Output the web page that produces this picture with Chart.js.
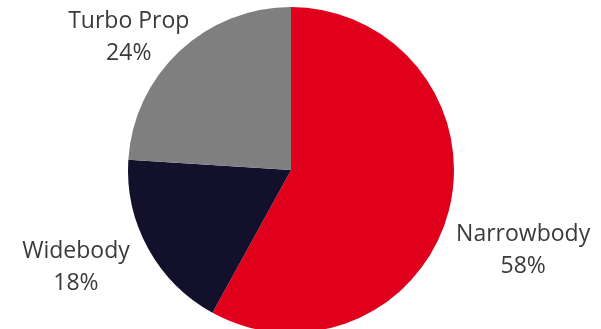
<!DOCTYPE html>
<html>
<head>
<meta charset="utf-8">
<script src="https://cdn.jsdelivr.net/npm/chart.js@4/dist/chart.umd.min.js"></script>
<style>
  html, body { margin: 0; padding: 0; background: #fff; overflow: hidden; }
  #wrap { width: 601px; height: 336px; position: relative; }
</style>
</head>
<body>
<div id="wrap"><canvas id="myChart"></canvas></div>
<script>
const categories = ["Narrowbody", "Widebody", "Turbo Prop"];
const shares = [58, 18, 24];
const sliceColors = ["#e0001b", "#12102a", "#7f7f7f"];

// small nudges so the labels sit where the original put them
const labelNudge = [
  { dx: 21, dy: 17 },
  { dx: -24, dy: -17 },
  { dx: -13, dy: 17 },
];

const outsideLabels = {
  id: "outsideLabels",
  afterDatasetsDraw(chart) {
    const ctx = chart.ctx;
    const meta = chart.getDatasetMeta(0);
    ctx.save();
    ctx.font = "23px 'Open Sans'";
    ctx.fillStyle = "#3a3a3a";
    ctx.textAlign = "center";
    ctx.textBaseline = "alphabetic";
    meta.data.forEach((arc, i) => {
      const p = arc.getProps(["x", "y", "startAngle", "endAngle", "outerRadius"], true);
      const mid = (p.startAngle + p.endAngle) / 2;
      const d = p.outerRadius + 55;
      const x = p.x + Math.cos(mid) * d + labelNudge[i].dx;
      const y = p.y + Math.sin(mid) * d + labelNudge[i].dy;
      ctx.fillText(categories[i], x, y);
      ctx.fillText(shares[i] + "%", x, y + 32);
    });
    ctx.restore();
  },
};

const ctx = document.getElementById("myChart").getContext("2d");

new Chart(ctx, {
  type: "pie",
  data: {
    labels: categories,
    datasets: [
      {
        data: shares,
        backgroundColor: sliceColors,
        borderWidth: 0,
      },
    ],
  },
  options: {
    responsive: true,
    maintainAspectRatio: false,
    animation: false,
    layout: {
      padding: { top: 7, bottom: 3, left: 10, right: 29 },
    },
    plugins: {
      legend: { display: false },
      tooltip: { enabled: false },
    },
  },
  plugins: [outsideLabels],
});
</script>
</body>
</html>
